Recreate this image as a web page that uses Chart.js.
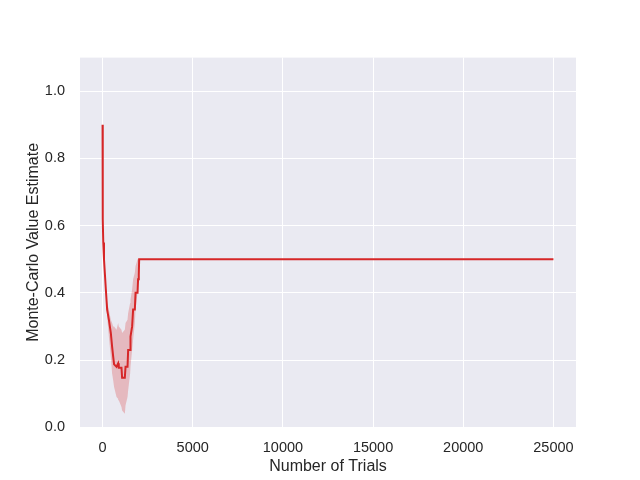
<!DOCTYPE html>
<html>
<head>
<meta charset="utf-8">
<script src="https://cdn.jsdelivr.net/npm/chart.js@4/dist/chart.umd.min.js"></script>
<style>
  html, body { margin: 0; padding: 0; background: #ffffff; }
  #wrap { width: 640px; height: 480px; }
</style>
</head>
<body>
<div id="wrap"><canvas id="c" width="640" height="480"></canvas></div>
<script>
// ---- data ----
const trials    = [1, 5, 10, 20, 40, 80, 183, 255, 350, 460, 530, 590, 640, 775, 865, 900, 1050, 1085, 1235, 1275, 1385, 1420, 1530, 1550, 1640, 1695, 1790, 1830, 1940, 1970, 2010, 2030, 24999];
const meanVals  = [0.90, 0.80, 0.72, 0.62, 0.55, 0.50, 0.41, 0.35, 0.32, 0.28, 0.24, 0.21, 0.187, 0.18, 0.19, 0.177, 0.177, 0.147, 0.147, 0.18, 0.18, 0.23, 0.23, 0.27, 0.30, 0.35, 0.35, 0.40, 0.40, 0.44, 0.454, 0.50, 0.50];
const lowerVals = [0.90, 0.80, 0.72, 0.62, 0.55, 0.50, 0.40, 0.33, 0.27, 0.21, 0.16, 0.14, 0.12, 0.09, 0.085, 0.08, 0.06, 0.05, 0.04, 0.065, 0.09, 0.11, 0.16, 0.18, 0.23, 0.26, 0.31, 0.35, 0.40, 0.43, 0.45, 0.50, 0.50];
const upperVals = [0.90, 0.80, 0.72, 0.62, 0.55, 0.50, 0.42, 0.37, 0.35, 0.32, 0.31, 0.30, 0.30, 0.29, 0.31, 0.30, 0.29, 0.28, 0.29, 0.31, 0.32, 0.34, 0.37, 0.38, 0.41, 0.44, 0.46, 0.48, 0.50, 0.50, 0.50, 0.50, 0.50];
const xTicks = [0, 5000, 10000, 15000, 20000, 25000];
const yTicks = [0.0, 0.2, 0.4, 0.6, 0.8, 1.0];
const xLabel = 'Number of Trials';
const yLabel = 'Monte-Carlo Value Estimate';

const pts = (ys) => trials.map((t, i) => ({ x: t, y: ys[i] }));

const bgPlugin = {
  id: 'plotBg',
  beforeDraw(chart) {
    const { ctx, chartArea: a } = chart;
    ctx.save();
    ctx.fillStyle = '#EAEAF2';
    ctx.fillRect(a.left, a.top, a.right - a.left, a.bottom - a.top);
    ctx.restore();
  }
};

const FONT = "'Liberation Sans', Arial, sans-serif";
const TXT = '#262626';

new Chart(document.getElementById('c'), {
  type: 'line',
  data: {
    datasets: [
      { data: pts(lowerVals), borderWidth: 0, pointRadius: 0, fill: false, borderColor: 'rgba(0,0,0,0)' },
      { data: pts(upperVals), borderWidth: 0, pointRadius: 0, fill: '-1', borderColor: 'rgba(0,0,0,0)', backgroundColor: 'rgba(214,39,40,0.25)' },
      { data: pts(meanVals), borderWidth: 2, pointRadius: 0, fill: false, borderColor: '#d62728' }
    ]
  },
  options: {
    responsive: false,
    animation: false,
    devicePixelRatio: 1,
    layout: { padding: { top: 57.6, right: 64, left: 0, bottom: 0 } },
    plugins: { legend: { display: false }, tooltip: { enabled: false } },
    elements: { line: { tension: 0 } },
    scales: {
      x: {
        type: 'linear', min: -1250, max: 26250,
        afterBuildTicks: (s) => { s.ticks = xTicks.map(v => ({ value: v })); },
        afterFit: (s) => { s.height = 52.8; },
        grid: { color: '#ffffff', lineWidth: 1, drawTicks: false },
        border: { display: false },
        ticks: { color: TXT, font: { family: FONT, size: 14.5 }, padding: 12, maxRotation: 0, callback: (v) => String(v) },
        title: { display: true, text: xLabel, color: TXT, font: { family: FONT, size: 16 }, padding: { top: 4, bottom: 4 } }
      },
      y: {
        type: 'linear', min: 0, max: 1.1,
        afterBuildTicks: (s) => { s.ticks = yTicks.map(v => ({ value: v })); },
        afterFit: (s) => { s.width = 80; },
        grid: { color: '#ffffff', lineWidth: 1, drawTicks: false },
        border: { display: false },
        ticks: { color: TXT, font: { family: FONT, size: 14.5 }, padding: 15, callback: (v) => v.toFixed(1) },
        title: { display: true, text: yLabel, color: TXT, font: { family: FONT, size: 16 }, padding: { top: 24, bottom: 4 } }
      }
    }
  },
  plugins: [bgPlugin]
});
</script>
</body>
</html>
